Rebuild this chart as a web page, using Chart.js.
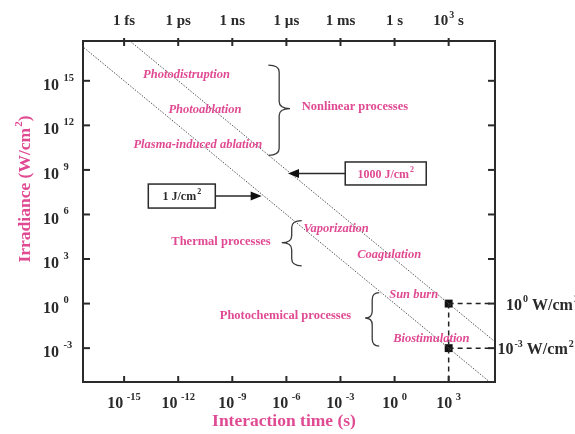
<!DOCTYPE html>
<html>
<head>
<meta charset="utf-8">
<script src="https://cdn.jsdelivr.net/npm/chart.js@4"></script>
<style>
  html, body { margin: 0; padding: 0; background: #fff; }
  canvas { display: block; }
</style>
</head>
<body>
<canvas id="laserChart" width="575" height="434"></canvas>
<script>
// interaction time (s) vs irradiance (W/cm2), both log axes
var timeTickExps = [-15, -12, -9, -6, -3, 0, 3];
var timeTickUnits = ['1 fs', '1 ps', '1 ns', '1 \u00b5s', '1 ms', '1 s', '10^{3} s'];
var irrTickExps = [-3, 0, 3, 6, 9, 12, 15];

// constant fluence lines (I = F / t), end points outside the frame
var lineTimes = [1e-18, 1e6];
var irr1J = [1e18, 1e-6];
var irr1000J = [1e21, 1e-3];

// marked points at 10^3 s
var markTimes = [1e3, 1e3];
var markIrr = [1, 1e-3];
var markLabels = ['10^{0} W/cm^{2}', '10^{-3} W/cm^{2}'];

var PINK = '#e04a93';
var INK = '#2a2a2a';
var SERIF = '"Liberation Serif", "Times New Roman", serif';

function pts(xs, ys) {
  return xs.map(function (x, i) { return { x: x, y: ys[i] }; });
}

// annotation anchors are given as decades (log10 of time, log10 of irradiance)
var notes = [
  { text: 'Photodistruption', ex: -11.54, ey: 15.38, italic: true, align: 'center' },
  { text: 'Photoablation', ex: -10.52, ey: 13.02, italic: true, align: 'center' },
  { text: 'Plasma-induced ablation', ex: -10.91, ey: 10.69, italic: true, align: 'center' },
  { text: 'Nonlinear processes', ex: -5.15, ey: 13.24, italic: false, align: 'left' },
  { text: 'Thermal processes', ex: -6.87, ey: 4.19, italic: false, align: 'right' },
  { text: 'Vaporization', ex: -3.24, ey: 5.02, italic: true, align: 'center' },
  { text: 'Coagulation', ex: -0.30, ey: 3.29, italic: true, align: 'center' },
  { text: 'Photochemical processes', ex: -2.41, ey: -0.83, italic: false, align: 'right' },
  { text: 'Sun burn', ex: 1.06, ey: 0.59, italic: true, align: 'center' },
  { text: 'Biostimulation', ex: 2.04, ey: -2.34, italic: true, align: 'center' }
];
var braces = [
  { end: -7.0, tip: -5.80, top: 16.06, mid: 13.13, bot: 9.98 },
  { end: -5.15, tip: -6.26, top: 5.59, mid: 4.10, bot: 2.54 },
  { end: -0.85, tip: -1.63, top: 0.74, mid: -0.97, bot: -2.86 }
];
var boxes = [
  { text: '1000 J/cm^{2}', ex: -0.49, ey: 8.76, w: 81, h: 23, color: PINK, tip: -5.91 },
  { text: '1 J/cm^{2}', ex: -11.80, ey: 7.24, w: 67, h: 24, color: INK, tip: -7.37 }
];

function drawRich(ctx, str, x, y, o) {
  var parts = [], re = /\^\{([^}]*)\}/g, last = 0, m;
  while ((m = re.exec(str))) {
    if (m.index > last) parts.push({ t: str.slice(last, m.index), sup: false });
    parts.push({ t: m[1], sup: true });
    last = re.lastIndex;
  }
  if (last < str.length) parts.push({ t: str.slice(last), sup: false });
  var st = o.italic ? 'italic ' : '';
  var base = st + 'bold ' + o.size + 'px ' + SERIF;
  var small = st + 'bold ' + (o.sup || o.size * 0.65) + 'px ' + SERIF;
  var gap = o.gap == null ? 1 : o.gap;
  var w = 0;
  parts.forEach(function (p) {
    ctx.font = p.sup ? small : base;
    p.w = ctx.measureText(p.t).width;
    w += p.w + (p.sup ? gap : 0);
  });
  var cx = o.align === 'center' ? x - w / 2 : (o.align === 'right' ? x - w : x);
  ctx.fillStyle = o.color || INK;
  ctx.textBaseline = 'middle';
  ctx.textAlign = 'left';
  parts.forEach(function (p) {
    if (p.sup) cx += gap;
    ctx.font = p.sup ? small : base;
    ctx.fillText(p.t, cx, p.sup ? y - (o.rise || o.size * 0.4) : y);
    cx += p.w;
  });
  return w;
}

function seg(ctx, x1, y1, x2, y2) {
  ctx.beginPath();
  ctx.moveTo(x1, y1);
  ctx.lineTo(x2, y2);
  ctx.stroke();
}

var overlay = {
  id: 'overlay',
  beforeDraw: function (chart) {
    var ctx = chart.ctx;
    ctx.save();
    ctx.fillStyle = '#fff';
    ctx.fillRect(0, 0, chart.width, chart.height);
    ctx.restore();
  },
  afterDraw: function (chart) {
    var ctx = chart.ctx, a = chart.chartArea;
    var xs = chart.scales.x, ys = chart.scales.y;
    var X = function (e) { return xs.getPixelForValue(Math.pow(10, e)); };
    var Y = function (e) { return ys.getPixelForValue(Math.pow(10, e)); };
    ctx.save();

    // frame + ticks
    ctx.strokeStyle = INK;
    ctx.lineWidth = 2;
    ctx.strokeRect(a.left, a.top, a.right - a.left, a.bottom - a.top);
    timeTickExps.forEach(function (e, i) {
      var x = X(e);
      seg(ctx, x, a.top - 3, x, a.top + 5);
      seg(ctx, x, a.bottom, x, a.bottom - 6);
      drawRich(ctx, timeTickUnits[i], x, 21, { size: 15, sup: 10, align: 'center', gap: 1, rise: 6 });
      drawRich(ctx, '10^{' + e + '}', x, 404, { size: 16, sup: 10.5, align: 'center', gap: 3.5, rise: 7 });
    });
    irrTickExps.forEach(function (e) {
      var y = Y(e);
      seg(ctx, a.left, y, a.left + 7, y);
      seg(ctx, a.right, y, a.right - 7, y);
      drawRich(ctx, '10^{' + e + '}', 43, y + 5, { size: 16, sup: 10.5, align: 'left', gap: 4.5, rise: 8 });
    });

    // labels of the marked points, right of the frame
    markIrr.forEach(function (v, i) {
      var y = ys.getPixelForValue(v);
      drawRich(ctx, markLabels[i], a.right + (i === 0 ? 11 : 2.5), y + 2,
        { size: 16, sup: 10, align: 'left', gap: 1, rise: 6 });
    });

    // axis titles
    drawRich(ctx, 'Interaction time (s)', (a.left + a.right) / 2 - 5, 421,
      { size: 17.5, align: 'center', color: PINK });
    ctx.save();
    ctx.translate(25, 189);
    ctx.rotate(-Math.PI / 2);
    drawRich(ctx, 'Irradiance (W/cm^{2})', 0, 0, { size: 17.5, sup: 11, align: 'center', color: PINK, gap: 1, rise: 6 });
    ctx.restore();

    // process names
    notes.forEach(function (n) {
      drawRich(ctx, n.text, X(n.ex), Y(n.ey), { size: 12.5, italic: n.italic, align: n.align, color: PINK });
    });

    // braces
    ctx.strokeStyle = '#3a3a3a';
    ctx.lineWidth = 1.3;
    braces.forEach(function (b) {
      var x0 = X(b.end), x1 = X(b.tip), xm = x0 + (x1 - x0) * 0.5;
      var yt = Y(b.top), ym = Y(b.mid), yb = Y(b.bot), r = 7;
      ctx.beginPath();
      ctx.moveTo(x0, yt);
      ctx.quadraticCurveTo(xm, yt, xm, yt + r);
      ctx.lineTo(xm, ym - r);
      ctx.quadraticCurveTo(xm, ym, x1, ym);
      ctx.quadraticCurveTo(xm, ym, xm, ym + r);
      ctx.lineTo(xm, yb - r);
      ctx.quadraticCurveTo(xm, yb, x0, yb);
      ctx.stroke();
    });

    // fluence boxes with arrows
    boxes.forEach(function (b) {
      var cx = X(b.ex), cy = Y(b.ey), tx = X(b.tip);
      ctx.strokeStyle = INK;
      ctx.lineWidth = 1.5;
      ctx.strokeRect(cx - b.w / 2, cy - b.h / 2, b.w, b.h);
      drawRich(ctx, b.text, cx, cy + 1, { size: 12, sup: 8, align: 'center', color: b.color, gap: 1, rise: 5 });
      var sx = tx < cx ? cx - b.w / 2 : cx + b.w / 2;
      var dir = tx < sx ? -1 : 1;
      seg(ctx, sx, cy, tx - dir * 9, cy);
      ctx.fillStyle = '#111';
      ctx.beginPath();
      ctx.moveTo(tx, cy);
      ctx.lineTo(tx - dir * 11, cy - 4.5);
      ctx.lineTo(tx - dir * 11, cy + 4.5);
      ctx.closePath();
      ctx.fill();
    });
    ctx.restore();
  }
};

new Chart(document.getElementById('laserChart'), {
  type: 'line',
  data: {
    datasets: [
      { label: '1 J/cm2', data: pts(lineTimes, irr1J), borderColor: '#555', borderWidth: 1,
        borderDash: [1.5, 1.5], pointRadius: 0 },
      { label: '1000 J/cm2', data: pts(lineTimes, irr1000J), borderColor: '#555', borderWidth: 1,
        borderDash: [1.5, 1.5], pointRadius: 0 },
      { label: 'guide 1', data: pts([markTimes[0], 1e7], [markIrr[0], markIrr[0]]), borderColor: '#222',
        borderWidth: 1.5, borderDash: [5, 4], pointRadius: 0 },
      { label: 'guide 2', data: pts([markTimes[1], 1e7], [markIrr[1], markIrr[1]]), borderColor: '#222',
        borderWidth: 1.5, borderDash: [5, 4], pointRadius: 0 },
      { label: 'guide 3', data: pts([markTimes[0], markTimes[0]], [markIrr[0], 1e-7]), borderColor: '#222',
        borderWidth: 1.5, borderDash: [5, 4], pointRadius: 0 },
      { label: 'points', data: pts(markTimes, markIrr), showLine: false, pointStyle: 'rect',
        pointRadius: 5.6, backgroundColor: '#111', borderColor: '#111', borderWidth: 0 }
    ]
  },
  options: {
    responsive: false,
    animation: false,
    devicePixelRatio: 1,
    layout: { padding: { left: 83, top: 41, right: 80, bottom: 52 } },
    plugins: { legend: { display: false }, tooltip: { enabled: false } },
    scales: {
      x: { type: 'logarithmic', bounds: 'data', min: Math.pow(10, -17.28), max: Math.pow(10, 5.57), display: false },
      y: { type: 'logarithmic', bounds: 'data', min: Math.pow(10, -5.28), max: Math.pow(10, 17.68), display: false }
    }
  },
  plugins: [overlay]
});
</script>
</body>
</html>
